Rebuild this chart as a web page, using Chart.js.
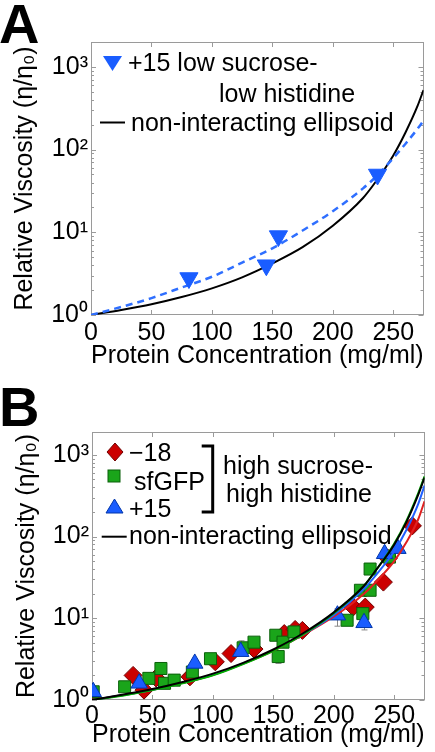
<!DOCTYPE html>
<html><head><meta charset="utf-8">
<script src="https://cdn.jsdelivr.net/npm/chart.js@4/dist/chart.umd.min.js"></script>
<style>
html,body{margin:0;padding:0;background:#fff;}
body{width:435px;height:752px;overflow:hidden;position:relative;font-family:"Liberation Sans",Arial,sans-serif;}
.p{position:absolute;left:0;width:435px;height:376px;}
.p canvas{position:absolute;left:0;top:0;}
.t{position:absolute;line-height:0;font-size:25px;white-space:nowrap;color:#000;}
.lbl{position:absolute;line-height:0;font-size:56px;font-weight:bold;color:#000;}
svg{position:absolute;left:0;top:0;overflow:visible;}
</style></head><body>
<div class="p" style="top:0">
  <canvas id="ca" width="435" height="376"></canvas>
  <div class="lbl" style="left:-1px;top:24px">A</div>
  <svg width="435" height="376">
    <polygon points="103,56 122,56 112.5,71" fill="#1a5dff"/>
    <line x1="100" y1="122.5" x2="125" y2="122.5" stroke="#000" stroke-width="2"/>
  </svg>
  <div class="t" style="left:128px;top:62px">+15 low sucrose-</div>
  <div class="t" style="left:219px;top:93px">low histidine</div>
  <div class="t" style="left:131px;top:122px">non-interacting ellipsoid</div>
</div>
<div class="p" style="top:376px">
  <canvas id="cb" width="435" height="376"></canvas>
  <div class="lbl" style="left:-1px;top:31px">B</div>
  <svg width="435" height="376">
    <polygon points="115,67 123,76 115,85 107,76" fill="#cc0000" stroke="#700000" stroke-width="1"/>
    <rect x="108" y="94" width="12" height="12" fill="#1aa51a" stroke="#0a600a" stroke-width="1"/>
    <polygon points="106,137 123,137 114.5,123" fill="#1a5dff" stroke="#0035aa" stroke-width="1"/>
    <polyline points="201.7,70 212.7,70 212.7,136 201.7,136" fill="none" stroke="#000" stroke-width="3"/>
    <line x1="101.7" y1="160.7" x2="126.7" y2="160.7" stroke="#000" stroke-width="2"/>
  </svg>
  <div class="t" style="left:129px;top:76px">−18</div>
  <div class="t" style="left:134px;top:105px">sfGFP</div>
  <div class="t" style="left:129px;top:132px">+15</div>
  <div class="t" style="left:223px;top:89px">high sucrose-</div>
  <div class="t" style="left:226px;top:117px">high histidine</div>
  <div class="t" style="left:129px;top:159px">non-interacting ellipsoid</div>
</div>
<script>
// ---------- data ----------
const xTickValues = [0, 50, 100, 150, 200, 250];
const yTickValues = [1, 10, 100, 1000];
const yTickLabels = ['10⁰', '10¹', '10²', '10³'];

// Panel A: +15 low sucrose-low histidine
const aX = [81, 145, 155, 237];
const aY = [2.8, 4.0, 9.0, 50];
const curveX = [0, 25, 50, 75, 100, 125, 150, 175, 200, 225, 235, 250, 260, 270, 275];
const aFitY = [1, 1.25, 1.6, 2.15, 2.9, 4.3, 6.4, 10.5, 18, 34, 46, 79, 117, 178, 224];
const aEllY = [1, 1.15, 1.35, 1.65, 2.1, 2.85, 4.2, 6.6, 12, 26, 40, 85, 160, 335, 525];

// Panel B: high sucrose-high histidine
const negX = [1, 34, 43, 53, 81, 102, 115, 134, 159, 168, 174, 216, 226, 241, 245, 265];
const negY = [1.05, 2.0, 1.32, 1.86, 1.92, 2.93, 3.7, 4.2, 6.5, 7.3, 7.1, 13.7, 13.7, 27.7, 54, 135];
const sfX = [1, 27, 47, 57, 60, 68, 83, 98, 125, 134, 152, 154, 158, 167, 211, 222, 224, 230, 230, 246];
const sfY = [1.26, 1.45, 1.84, 2.43, 1.6, 1.75, 2.2, 3.2, 4.35, 5.1, 6.2, 3.4, 5.1, 6.8, 9.45, 22, 11.4, 22, 40, 56];
const posX = [1, 39, 85, 123, 203, 225, 242, 253];
const posY = [1.26, 1.6, 2.8, 3.9, 10.9, 8.8, 61.5, 71];
const bEllBlackY = [1, 1.16, 1.36, 1.66, 2.1, 2.85, 4.15, 6.6, 11.8, 25, 39, 80, 150, 330, 525];
const bEllGreenY = [1, 1.13, 1.32, 1.6, 2.0, 2.75, 4.0, 6.4, 11.5, 25, 39, 82, 155, 345, 545];
const bEllBlueY  = [1, 1.14, 1.33, 1.62, 2.03, 2.8, 4.05, 6.4, 11, 23, 34, 66, 120, 255, 420];
const bEllRedY   = [1, 1.14, 1.33, 1.62, 2.02, 2.78, 4.0, 6.3, 10.5, 20, 28, 50, 85, 165, 270];

// error bars (panel B): x, lower, upper
const errX    = [81, 123, 154, 203, 225, 226];
const errLow  = [1.7, 3.6, 2.8, 8.0, 7.2, 12];
const errHigh = [2.1, 5.3, 3.6, 13, 9.5, 15.5];

// ---------- helpers ----------
const F = '"Liberation Sans", Arial, sans-serif';
const pts = (xs, ys) => xs.map((x, i) => ({x, y: ys[i]}));

const frame = {
  id: 'frame',
  beforeDatasetsDraw(chart) {
    const {ctx, chartArea: a, scales: {x, y}} = chart;
    ctx.save();
    ctx.strokeStyle = '#9a9a9a';
    ctx.lineWidth = 1;
    ctx.beginPath();
    yTickValues.forEach(v => {
      for (let m = 1; m <= 9; m++) {
        const val = v * m;
        if (val > y.max) break;
        const py = Math.round(y.getPixelForValue(val)) + 0.5;
        const len = m === 1 ? 5 : 3;
        ctx.moveTo(a.left, py); ctx.lineTo(a.left + len, py);
        ctx.moveTo(a.right, py); ctx.lineTo(a.right - len, py);
      }
    });
    xTickValues.forEach(v => {
      const px = Math.round(x.getPixelForValue(v)) + 0.5;
      ctx.moveTo(px, a.bottom); ctx.lineTo(px, a.bottom - 5);
      ctx.moveTo(px, a.top); ctx.lineTo(px, a.top + 5);
    });
    ctx.stroke();
    ctx.strokeRect(Math.round(a.left) + 0.5, Math.round(a.top) + 0.5,
                   Math.round(a.right - a.left) - 1, Math.round(a.bottom - a.top) - 1);
    if (chart.canvas.id === 'cb') {
      ctx.strokeStyle = '#888';
      ctx.beginPath();
      errX.forEach((ex, i) => {
        const px = Math.round(x.getPixelForValue(ex)) + 0.5;
        const y1 = y.getPixelForValue(errLow[i]), y2 = y.getPixelForValue(errHigh[i]);
        ctx.moveTo(px, y1); ctx.lineTo(px, y2);
        ctx.moveTo(px - 3, y1); ctx.lineTo(px + 3, y1);
        ctx.moveTo(px - 3, y2); ctx.lineTo(px + 3, y2);
      });
      ctx.stroke();
    }
    ctx.restore();
  }
};

function makeOptions(cfg) {
  return {
    responsive: false, animation: false, devicePixelRatio: 1, events: [],
    layout: {padding: cfg.pad},
    plugins: {legend: {display: false}, tooltip: {enabled: false}},
    scales: {
      x: {
        type: 'linear', min: 0, max: 275,
        afterBuildTicks: s => { s.ticks = xTickValues.map(v => ({value: v})); },
        afterFit: s => { s.height = cfg.xh; },
        ticks: {font: {size: 25, family: F}, color: '#000', padding: cfg.xtp, maxRotation: 0, autoSkip: false,
                callback: v => String(v)},
        grid: {display: false, drawTicks: false},
        border: {display: false},
        title: {display: true, text: 'Protein Concentration (mg/ml)', font: {size: 25, family: F}, color: '#000',
                padding: {top: 0, bottom: cfg.xtitle}}
      },
      y: {
        type: 'logarithmic', min: 1, max: cfg.ymax,
        afterBuildTicks: s => { s.ticks = yTickValues.map(v => ({value: v})); },
        afterFit: s => { s.width = cfg.yw; },
        ticks: {font: {size: 25, family: F}, color: '#000', padding: 3, autoSkip: false,
                callback: v => { const i = yTickValues.indexOf(v); return i >= 0 ? yTickLabels[i] : ''; }},
        grid: {display: false, drawTicks: false},
        border: {display: false},
        title: {display: true, text: 'Relative Viscosity (η/η₀)', font: {size: 25, family: F}, color: '#000',
                padding: {top: cfg.ytitle, bottom: 0}}
      }
    }
  };
}

const lineDs = (xs, ys, color, extra) => Object.assign({
  type: 'scatter', data: pts(xs, ys), showLine: true, borderColor: color, borderWidth: 2,
  pointRadius: 0, cubicInterpolationMode: 'monotone', fill: false
}, extra || {});

new Chart(document.getElementById('ca'), {
  type: 'scatter',
  data: {datasets: [
    {label: '+15 low sucrose-low histidine', data: pts(aX, aY), pointStyle: 'triangle', rotation: 180,
     pointRadius: 10.5, backgroundColor: '#1a5dff', borderColor: '#1a5dff', borderWidth: 1, order: 0},
    lineDs(curveX, aFitY, '#2f6fff', {label: 'fit', borderDash: [7, 5], borderWidth: 2.5, order: 1}),
    lineDs(curveX, aEllY, '#000000', {label: 'non-interacting ellipsoid', order: 2})
  ]},
  options: makeOptions({pad: {top: 42, right: 1, left: 0, bottom: 0}, xh: 61, xtp: 3, xtitle: 5,
                        ymax: 2000, yw: 91, ytitle: 10}),
  plugins: [frame]
});

new Chart(document.getElementById('cb'), {
  type: 'scatter',
  data: {datasets: [
    lineDs(curveX, bEllRedY, '#e02020', {label: '−18 fit', order: 3}),
    lineDs(curveX, bEllBlueY, '#2060ff', {label: '+15 fit', order: 2}),
    lineDs(curveX, bEllGreenY, '#00b000', {label: 'sfGFP fit', order: 1}),
    lineDs(curveX, bEllBlackY, '#000000', {label: 'non-interacting ellipsoid', order: 0}),
    {label: '−18', data: pts(negX, negY), pointStyle: 'rectRot', pointRadius: 9,
     backgroundColor: '#cc0000', borderColor: '#700000', borderWidth: 1, order: 6},
    {label: 'sfGFP', data: pts(sfX, sfY), pointStyle: 'rect', pointRadius: 8.5,
     backgroundColor: '#1aa51a', borderColor: '#0a600a', borderWidth: 1, order: 5},
    {label: '+15', data: pts(posX, posY), pointStyle: 'triangle', pointRadius: 9.5,
     backgroundColor: '#1a5dff', borderColor: '#0035aa', borderWidth: 1, order: 4}
  ]},
  options: makeOptions({pad: {top: 56, right: 7, left: 0, bottom: 0}, xh: 52, xtp: 1, xtitle: 2,
                        ymax: 1900, yw: 92, ytitle: 12}),
  plugins: [frame]
});
</script>
</body></html>
